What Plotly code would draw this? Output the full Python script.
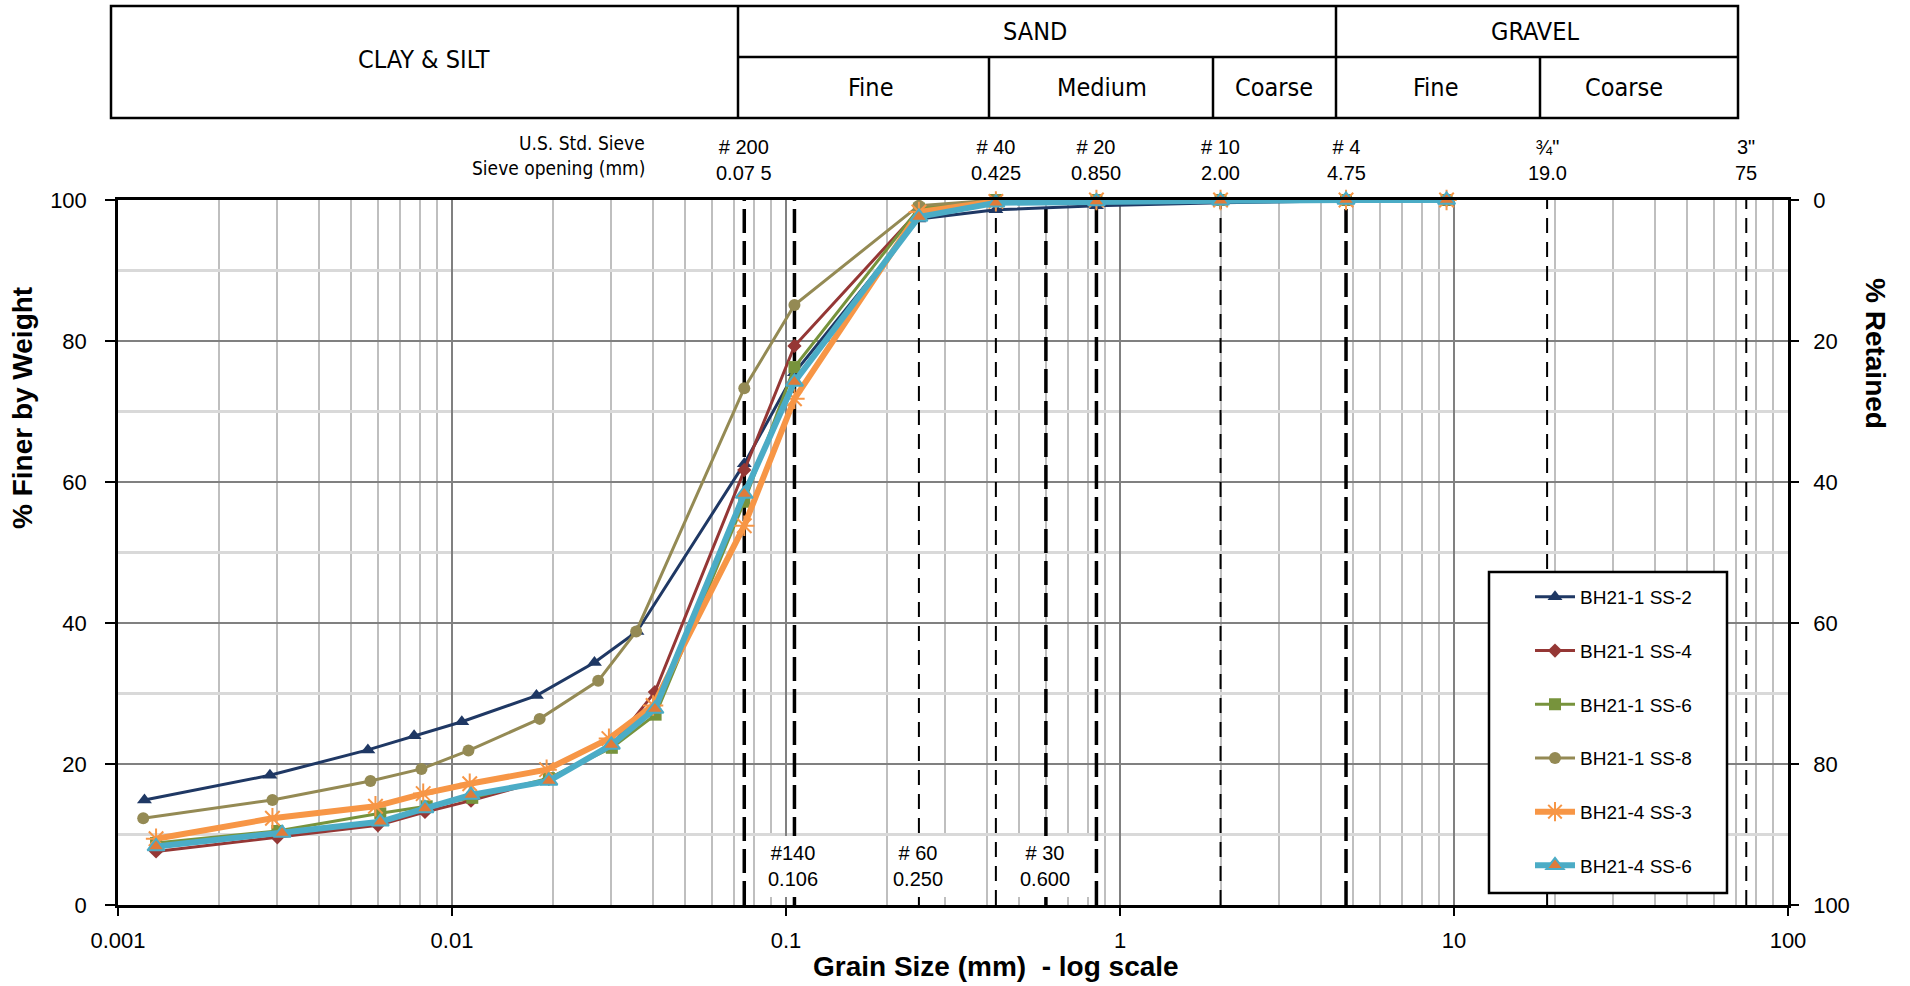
import plotly.graph_objects as go
import math

# ---------------- data ----------------
names = ["BH21-1 SS-2", "BH21-1 SS-4", "BH21-1 SS-6", "BH21-1 SS-8", "BH21-4 SS-3", "BH21-4 SS-6"]

size_ss2 = [0.0012, 0.00285, 0.0056, 0.0077, 0.0107, 0.0179, 0.0267, 0.0358, 0.075, 0.106, 0.25, 0.425, 0.85, 2.0, 4.75, 9.5]
pct_ss2 = [14.9, 18.4, 22.0, 24.0, 26.0, 29.7, 34.4, 38.8, 62.6, 75.5, 97.3, 98.6, 99.2, 99.6, 99.9, 100]

size_ss4 = [0.0013, 0.0030, 0.0060, 0.0083, 0.0114, 0.0195, 0.0300, 0.0405, 0.075, 0.106, 0.25, 0.425, 0.85, 2.0, 4.75, 9.5]
pct_ss4 = [7.6, 9.6, 11.3, 13.2, 14.8, 17.9, 22.5, 30.2, 61.7, 79.3, 98.5, 99.7, 99.9, 100, 100, 100]

size_ss6 = [0.0013, 0.0030, 0.0061, 0.0084, 0.0115, 0.0195, 0.0301, 0.0407, 0.075, 0.106, 0.25, 0.425, 0.85, 2.0, 4.75, 9.5]
pct_ss6 = [8.8, 10.5, 13.0, 14.0, 15.2, 18.0, 22.3, 27.0, 57.2, 76.3, 98.8, 100, 100, 100, 100, 100]

size_ss8 = [0.00119, 0.0029, 0.0057, 0.0081, 0.0112, 0.0183, 0.0274, 0.0356, 0.075, 0.106, 0.25, 0.425, 0.85, 2.0, 4.75, 9.5]
pct_ss8 = [12.3, 14.9, 17.6, 19.3, 21.9, 26.4, 31.8, 38.8, 73.3, 85.1, 99.2, 100, 100, 100, 100, 100]

size_b4ss3 = [0.0013, 0.0029, 0.0059, 0.0082, 0.0113, 0.0192, 0.0295, 0.0400, 0.075, 0.106, 0.25, 0.425, 0.85, 2.0, 4.75, 9.5]
pct_b4ss3 = [9.4, 12.3, 14.0, 15.8, 17.2, 19.2, 23.6, 28.3, 53.8, 71.8, 98.3, 99.8, 100, 100, 100, 100]

size_b4ss6 = [0.0013, 0.0031, 0.0061, 0.0083, 0.0114, 0.0195, 0.0300, 0.0405, 0.075, 0.106, 0.25, 0.425, 0.85, 2.0, 4.75, 9.5]
pct_b4ss6 = [8.3, 10.2, 11.8, 13.7, 15.6, 17.6, 22.7, 27.8, 58.3, 74.2, 97.6, 99.6, 99.8, 99.9, 100, 100]

# sieve reference lines
sieve_open = [0.075, 0.106, 0.25, 0.425, 0.6, 0.85, 2.0, 4.75, 19.0, 75.0]
sieve_heavy = [True, True, False, False, True, True, False, True, False, False]

top_sieve_val = [0.075, 0.425, 0.85, 2.0, 4.75, 19.0, 75.0]
top_sieve_no = ["# 200", "# 40", "# 20", "# 10", "# 4", "\u00be\"", "3\""]
top_sieve_mm = ["0.07 5", "0.425", "0.850", "2.00", "4.75", "19.0", "75"]

bottom_sieve_no = ["#140", "# 60", "# 30"]
bottom_sieve_mm = ["0.106", "0.250", "0.600"]

x_tickvals = [0.001, 0.01, 0.1, 1, 10, 100]
x_ticktext = ["0.001", "0.01", "0.1", "1", "10", "100"]
y_tickvals = [0, 20, 40, 60, 80, 100]

# ---------------- layout geometry (pixels) ----------------
FIG_W, FIG_H = 1910, 986
L, R, T, B = 118, 1788, 200, 905
PW, PH = R - L, B - T


def px(x):
    return (x - L) / PW


def py(y):
    return (B - y) / PH


def xv(x):  # pixel -> data value on log axis
    return 10 ** (-3 + 5 * (x - L) / PW)


def yv(y):  # pixel -> data value on y axis
    return 100 * (B - y) / PH


FONT = "Liberation Sans, Arial, sans-serif"
NARROW = "Liberation Sans Narrow, DejaVu Sans Condensed, Arial Narrow, sans-serif"

styles = [
    dict(color="#1F3864", width=3, symbol="triangle-up", msize=13, mcolor="#1F3864", mline=None),
    dict(color="#953735", width=3, symbol="diamond", msize=11, mcolor="#953735", mline=None),
    dict(color="#77933C", width=3, symbol="square", msize=12, mcolor="#77933C", mline=None),
    dict(color="#948A54", width=3, symbol="circle", msize=12, mcolor="#948A54", mline=None),
    dict(color="#F79646", width=6, symbol="asterisk-open", msize=17, mcolor="#F79646", mline=dict(color="#F79646", width=2)),
    dict(color="#4BACC6", width=6, symbol="triangle-up", msize=15, mcolor="#E07B39", mline=dict(color="#4BACC6", width=2)),
]
xs = [size_ss2, size_ss4, size_ss6, size_ss8, size_b4ss3, size_b4ss6]
ys = [pct_ss2, pct_ss4, pct_ss6, pct_ss8, pct_b4ss3, pct_b4ss6]

fig = go.Figure()
for i, (n, x, y, s) in enumerate(zip(names, xs, ys, styles)):
    marker = dict(symbol=s["symbol"], size=s["msize"], color=s["mcolor"])
    marker["line"] = s["mline"] if s["mline"] else dict(width=0)
    fig.add_trace(go.Scatter(
        x=x, y=y, name=n, mode="lines+markers",
        line=dict(color=s["color"], width=s["width"]),
        marker=marker, legendgroup="g%d" % i, cliponaxis=False,
    ))

# % retained axis (right) – invisible companion trace so the axis is drawn
fig.add_trace(go.Scatter(
    x=size_ss2, y=[100 - p for p in pct_ss2], yaxis="y2", mode="lines",
    line=dict(width=0, color="rgba(0,0,0,0)"), showlegend=False, hoverinfo="skip",
))

shapes = []
# sieve dashed lines
for v, heavy in zip(sieve_open, sieve_heavy):
    shapes.append(dict(
        type="line", xref="x", yref="y", x0=v, x1=v, y0=0, y1=100, layer="between",
        line=dict(color="black", width=3.5 if heavy else 2, dash="24px,8px" if heavy else "15px,9px"),
    ))

# white label boxes at bottom (cover grid + dashed lines)
for x0, x1 in [(757, 883), (889, 984), (998, 1092)]:
    shapes.append(dict(type="rect", xref="x", yref="y", x0=xv(x0), x1=xv(x1),
                       y0=yv(897), y1=yv(836), fillcolor="white", line=dict(width=0), layer="between"))

# header table
tl = dict(color="black", width=2.5)
tab_l, tab_r, tab_t, tab_m, tab_b = 111, 1738, 6, 57, 118
shapes.append(dict(type="rect", xref="paper", yref="paper", x0=px(tab_l), x1=px(tab_r),
                   y0=py(tab_b), y1=py(tab_t), line=tl))
shapes.append(dict(type="line", xref="paper", yref="paper", x0=px(738), x1=px(tab_r),
                   y0=py(tab_m), y1=py(tab_m), line=tl))
for xd in [738, 1336]:
    shapes.append(dict(type="line", xref="paper", yref="paper", x0=px(xd), x1=px(xd),
                       y0=py(tab_b), y1=py(tab_t), line=tl))
for xd in [989, 1213, 1540]:
    shapes.append(dict(type="line", xref="paper", yref="paper", x0=px(xd), x1=px(xd),
                       y0=py(tab_b), y1=py(tab_m), line=tl))

# legend box
shapes.append(dict(type="rect", xref="paper", yref="paper", x0=px(1489), x1=px(1727),
                   y0=py(893), y1=py(572), fillcolor="white", line=dict(color="black", width=2.5),
                   layer="above"))

ann = []


def txt(t, x, y, size, family=FONT, xanchor="center", bold=False, angle=0):
    ann.append(dict(text="<b>%s</b>" % t if bold else t, xref="paper", yref="paper",
                    x=px(x), y=py(y), xanchor=xanchor, yanchor="middle", showarrow=False,
                    textangle=angle, font=dict(family=family, size=size, color="black")))


# header texts
txt("CLAY &amp; SILT", 424, 60, 25, NARROW)
txt("SAND", 1035, 31, 25, NARROW)
txt("GRAVEL", 1535, 31, 25, NARROW)
txt("Fine", 870, 87, 25, NARROW)
txt("Medium", 1102, 87, 25, NARROW)
txt("Coarse", 1274, 87, 25, NARROW)
txt("Fine", 1435, 87, 25, NARROW)
txt("Coarse", 1624, 87, 25, NARROW)

txt("U.S. Std. Sieve", 647, 143, 19, NARROW, xanchor="right")
txt("Sieve opening (mm)", 647, 168, 19, NARROW, xanchor="right")

for v, a, b in zip(top_sieve_val, top_sieve_no, top_sieve_mm):
    ann.append(dict(text=a + "<br>" + b, xref="x", yref="paper", x=math.log10(v), y=py(160),
                    xanchor="center", yanchor="middle", showarrow=False,
                    font=dict(family=FONT, size=20, color="black")))

for xc, a, b in zip([793, 918, 1045], bottom_sieve_no, bottom_sieve_mm):
    ann.append(dict(text=a + "<br>" + b, xref="paper", yref="paper", x=px(xc), y=py(866),
                    xanchor="center", yanchor="middle", showarrow=False,
                    font=dict(family=FONT, size=20, color="black")))

# axis titles
txt("% Finer by Weight", 22, 408, 28, FONT, bold=True, angle=-90)
txt("% Retained", 1876, 353, 28, FONT, bold=True, angle=90)
txt("Grain Size (mm)  - log scale", 996, 966, 28, FONT, bold=True)

minor_x = [k * 10 ** e for e in range(-3, 2) for k in range(2, 10)]

fig.update_layout(
    width=FIG_W, height=FIG_H,
    margin=dict(l=L, r=FIG_W - R, t=T, b=FIG_H - B, pad=0),
    paper_bgcolor="white", plot_bgcolor="white",
    font=dict(family=FONT, size=22, color="black"),
    shapes=shapes, annotations=ann,
    showlegend=True,
    legend=dict(x=px(1530), y=py(578), xanchor="left", yanchor="top",
                bgcolor="rgba(0,0,0,0)", borderwidth=0,
                font=dict(family=FONT, size=19, color="black"),
                tracegroupgap=26, itemwidth=40),
    xaxis=dict(type="log", range=[-3, 2], tickvals=x_tickvals, ticktext=x_ticktext,
               showgrid=True, gridcolor="#808080", gridwidth=2,
               minor=dict(tickvals=minor_x, showgrid=True, gridcolor="#BFBFBF", gridwidth=2, ticks=""),
               showline=True, linecolor="black", linewidth=2.5, mirror=True,
               ticks="outside", ticklen=8, tickwidth=2, tickcolor="black",
               ticklabelstandoff=6,
               tickfont=dict(family=FONT, size=22), zeroline=False),
    yaxis=dict(range=[0, 100], tickvals=y_tickvals,
               showgrid=True, gridcolor="#808080", gridwidth=2,
               minor=dict(tickvals=[10, 30, 50, 70, 90], showgrid=True, gridcolor="#D9D9D9", gridwidth=2.5, ticks=""),
               showline=True, linecolor="black", linewidth=2.5, mirror=True,
               ticks="outside", ticklen=10, tickwidth=2, tickcolor="black",
               ticklabelstandoff=14,
               tickfont=dict(family=FONT, size=22), zeroline=False),
    yaxis2=dict(overlaying="y", side="right", range=[100, 0], tickvals=y_tickvals,
                showgrid=False, showline=True, linecolor="black", linewidth=2.5,
                ticks="outside", ticklen=8, tickwidth=2, tickcolor="black",
                ticklabelstandoff=10,
                tickfont=dict(family=FONT, size=22), zeroline=False),
)

fig.write_html("out.html")
